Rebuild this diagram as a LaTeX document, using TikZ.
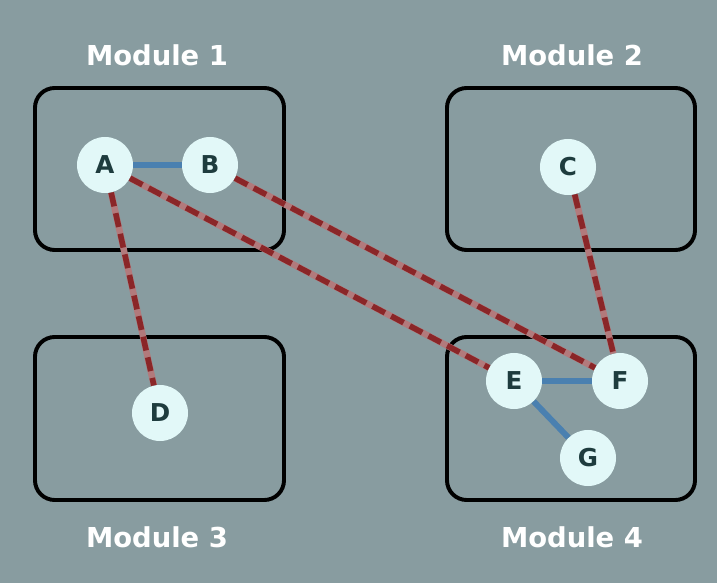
\documentclass[tikz,border=0pt]{standalone}
\usepackage{fontspec}
\newfontfamily\modfont{DejaVu Sans}
\usepackage{tikz}
\definecolor{bgcol}{HTML}{889CA0}
\definecolor{nodefill}{HTML}{E2F8F8}
\definecolor{nodetext}{HTML}{1E3C3E}
\definecolor{linkblue}{HTML}{4A80B0}
\definecolor{linkred}{HTML}{8A2628}
\definecolor{linkpink}{HTML}{B27A7C}

\begin{document}
\begin{tikzpicture}[x=0.025cm,y=-0.025cm,
    modbox/.style={draw=black,line width=2.8pt,rounded corners=14pt},
    modlabel/.style={text=white,font=\modfont\bfseries\fontsize{19.5}{22}\selectfont},
    vertex/.style={circle,fill=nodefill,minimum size=1.4cm,inner sep=0pt,text=nodetext,font=\modfont\bfseries\fontsize{17.5}{20}\selectfont},
    intra/.style={linkblue,line width=4.2pt},
    inter/.style={linkpink,line width=4.6pt,postaction={draw=linkred,line width=4pt,dash pattern=on 10pt off 5pt}}]
    \fill [bgcol] (0,0) rectangle (717,583);
    \useasboundingbox (0,0) rectangle (717,583);
    % modules
    \draw [modbox] (35,88) rectangle (284,250);
    \draw [modbox] (447,88) rectangle (695,250);
    \draw [modbox] (35,337) rectangle (284,500);
    \draw [modbox] (447,337) rectangle (695,500);
    \node [modlabel] (m1) at (157,55) {Module 1};
    \node [modlabel] (m2) at (572,55) {Module 2};
    \node [modlabel] (m3) at (157,537) {Module 3};
    \node [modlabel] (m4) at (572,537) {Module 4};
    % vertices
    \node [vertex] (A) at (105,165) {A};
    \node [vertex] (B) at (210,165) {B};
    \node [vertex] (C) at (568,167) {C};
    \node [vertex] (D) at (160,413) {D};
    \node [vertex] (E) at (514,381) {E};
    \node [vertex] (F) at (620,381) {F};
    \node [vertex] (G) at (588,458) {G};
    % links
    \draw [intra] (A) -- (B);
    \draw [intra] (E) -- (F);
    \draw [intra] (E) -- (G);
    \draw [inter] (A) -- (D);
    \draw [inter] (A) -- (E);
    \draw [inter] (B) -- (F);
    \draw [inter] (C) -- (F);
\end{tikzpicture}
\end{document}
